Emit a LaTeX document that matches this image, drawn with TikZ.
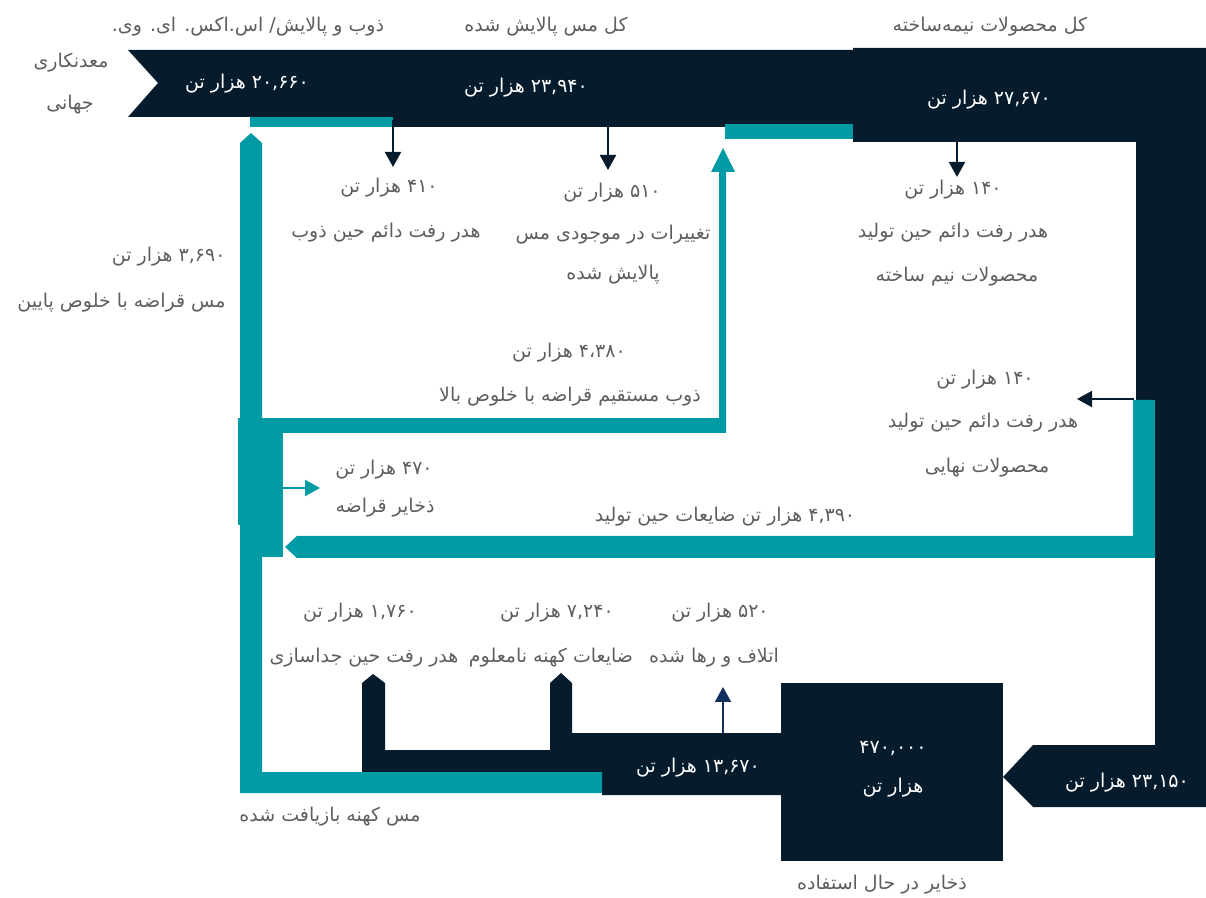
\documentclass[tikz,border=0pt]{standalone}
\usepackage{fontspec}
\newfontfamily\farsifont[Script=Arabic]{DejaVu Sans}
\TeXXeTstate=1
\usetikzlibrary{arrows.meta}
\definecolor{flowdark}{HTML}{061C2C}
\definecolor{flowteal}{HTML}{009BA5}
\definecolor{txtgray}{HTML}{5E5E5E}
\definecolor{arrblue}{HTML}{12305E}
\newcommand{\fatx}[1]{{\farsifont\beginR #1\endR}}

\begin{document}
\begin{tikzpicture}[x=0.5pt,y=-0.5pt,
    dark/.style={fill=flowdark,draw=none},
    scrap/.style={fill=flowteal,draw=none},
    lbl/.style={text=txtgray,font=\fontsize{9.5}{11}\selectfont,inner sep=0pt},
    wlbl/.style={text=white,font=\fontsize{9.5}{11}\selectfont,inner sep=0pt},
    lossarr/.style={draw=flowdark,line width=1pt,-{Triangle[length=7.5pt,width=8pt]}}]
  \useasboundingbox (0,0) rectangle (1206,898);

  % primary flow: mining -> refining -> semis -> in use
  \fill[dark] (128,50) -- (853,50) -- (853,48) -- (1206,48) -- (1206,807) -- (1033,807)
    -- (1003,777) -- (1033,745) -- (1155,745) -- (1155,400) -- (1136,400) -- (1136,142)
    -- (853,142) -- (853,124) -- (725,124) -- (725,127) -- (393,127) -- (393,117)
    -- (128,117) -- (158,83) -- cycle;
  \fill[scrap] (250,117) rectangle (393,127);
  \fill[scrap] (725,124) rectangle (853,139);

  % in use stock
  \fill[dark] (781,683) rectangle (1003,861);

  % end of life
  \fill[dark] (781,733) -- (572,733) -- (572,683) -- (561,673) -- (550,683) -- (550,750)
    -- (385,750) -- (385,683) -- (373,674) -- (362,683) -- (362,773) -- (602,773)
    -- (602,795) -- (781,795) -- cycle;

  % scrap loops
  \fill[scrap] (240,143) -- (251,133) -- (262,143) -- (262,772) -- (602,772) -- (602,793)
    -- (240,793) -- cycle;
  \fill[scrap] (238,418) rectangle (726,433);
  \fill[scrap] (238,433) rectangle (282,525);
  \fill[scrap] (262,433) rectangle (283,557);
  \fill[scrap] (719,433) -- (719,172) -- (711,172) -- (723,148) -- (735,172) -- (726,172)
    -- (726,433) -- cycle;
  \fill[scrap] (1133,400) -- (1155,400) -- (1155,558) -- (297,558) -- (285,547) -- (297,536)
    -- (1133,536) -- cycle;

  % small arrows
  \coordinate (m410) at (393,120);
  \coordinate (e410) at (393,167);
  \coordinate (m510) at (608,127);
  \coordinate (e510) at (608,170);
  \coordinate (m140a) at (957,142);
  \coordinate (e140a) at (957,177);
  \coordinate (m140b) at (1134,399);
  \coordinate (e140b) at (1077,399);
  \coordinate (m520) at (723,733);
  \coordinate (e520) at (723,687);
  \coordinate (m470) at (283,488);
  \coordinate (e470) at (320,488);
  \draw[lossarr] (m410) -- (e410);
  \draw[lossarr] (m510) -- (e510);
  \draw[lossarr] (m140a) -- (e140a);
  \draw[lossarr] (m140b) -- (e140b);
  \draw[lossarr,draw=arrblue] (m520) -- (e520);
  \draw[lossarr,draw=flowteal] (m470) -- (e470);

  % top labels
  \node[lbl] (mining1) at (71,63) {\fatx{معدنکاری}};
  \node[lbl] (mining2) at (70,105) {\fatx{جهانی}};
  \node[lbl] (hdrsmelt) at (248,27) {\fatx{ذوب و پالایش/ اس.اکس. ای. وی.}};
  \node[lbl] (hdrrefined) at (546,27) {\fatx{کل مس پالایش شده}};
  \node[lbl] (hdrsemis) at (990,27) {\fatx{کل محصولات نیمه‌ساخته}};
  \node[wlbl] (v20660) at (247,84) {\fatx{۲۰,۶۶۰ هزار تن}};
  \node[wlbl] (v23940) at (526,88) {\fatx{۲۳,۹۴۰ هزار تن}};
  \node[wlbl] (v27670) at (989,100) {\fatx{۲۷,۶۷۰ هزار تن}};

  % losses
  \node[lbl] (v410) at (389,188) {\fatx{۴۱۰ هزار تن}};
  \node[lbl] (t410) at (386,233) {\fatx{هدر رفت دائم حین ذوب}};
  \node[lbl] (v510) at (612,193) {\fatx{۵۱۰ هزار تن}};
  \node[lbl] (t510a) at (613,235) {\fatx{تغییرات در موجودی مس}};
  \node[lbl] (t510b) at (613,275) {\fatx{پالایش شده}};
  \node[lbl] (v4380) at (569,353) {\fatx{۴،۳۸۰ هزار تن}};
  \node[lbl] (t4380) at (570,397) {\fatx{ذوب مستقیم قراضه با خلوص بالا}};
  \node[lbl] (v140a) at (953,190) {\fatx{۱۴۰ هزار تن}};
  \node[lbl] (t140a1) at (953,233) {\fatx{هدر رفت دائم حین تولید}};
  \node[lbl] (t140a2) at (957,277) {\fatx{محصولات نیم ساخته}};
  \node[lbl] (v140b) at (985,380) {\fatx{۱۴۰ هزار تن}};
  \node[lbl] (t140b1) at (983,423) {\fatx{هدر رفت دائم حین تولید}};
  \node[lbl] (t140b2) at (987,468) {\fatx{محصولات نهایی}};

  % scrap labels
  \node[lbl,anchor=east] (v3690) at (226,257) {\fatx{۳,۶۹۰ هزار تن}};
  \node[lbl,anchor=east] (t3690) at (226,303) {\fatx{مس قراضه با خلوص پایین}};
  \node[lbl] (v470) at (384,470) {\fatx{۴۷۰ هزار تن}};
  \node[lbl] (t470) at (385,508) {\fatx{ذخایر قراضه}};
  \node[lbl] (t4390) at (725,517) {\fatx{۴,۳۹۰ هزار تن ضایعات حین تولید}};

  % end of life labels
  \node[lbl] (v1760) at (360,613) {\fatx{۱,۷۶۰ هزار تن}};
  \node[lbl] (t1760) at (364,658) {\fatx{هدر رفت حین جداسازی}};
  \node[lbl] (v7240) at (557,613) {\fatx{۷,۲۴۰ هزار تن}};
  \node[lbl] (t7240) at (551,658) {\fatx{ضایعات کهنه نامعلوم}};
  \node[lbl] (v520) at (720,613) {\fatx{۵۲۰ هزار تن}};
  \node[lbl] (t520) at (714,658) {\fatx{اتلاف و رها شده}};
  \node[wlbl] (v13670) at (698,768) {\fatx{۱۳,۶۷۰ هزار تن}};
  \node[lbl] (toldscrap) at (330,817) {\fatx{مس کهنه بازیافت شده}};

  % in use
  \node[wlbl] (v23150) at (1127,783) {\fatx{۲۳,۱۵۰ هزار تن}};
  \node[wlbl] (vstock) at (893,748) {\fatx{۴۷۰,۰۰۰}};
  \node[wlbl] (ustock) at (893,788) {\fatx{هزار تن}};
  \node[lbl] (tstock) at (882,885) {\fatx{ذخایر در حال استفاده}};
\end{tikzpicture}
\end{document}
